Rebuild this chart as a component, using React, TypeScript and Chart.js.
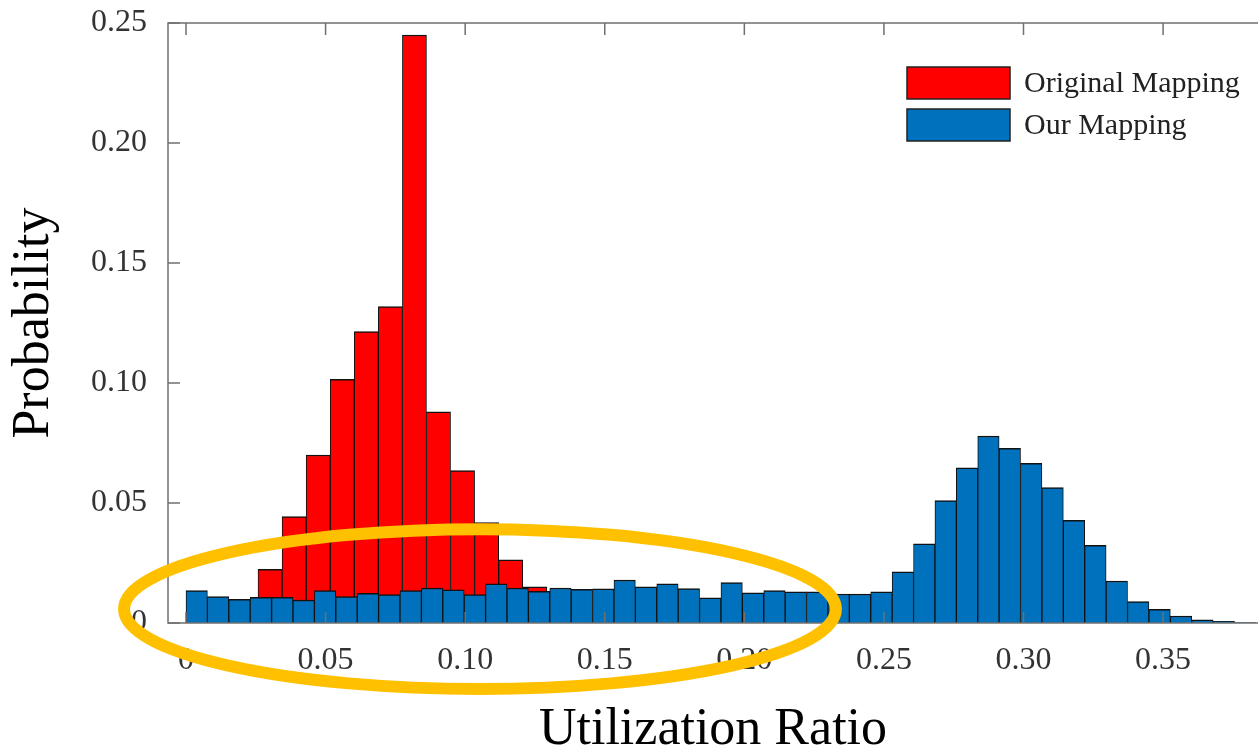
import React, { useEffect, useRef } from 'react';
import { Chart, registerables } from 'chart.js';

Chart.register(...registerables);

// ---- Data ----
const seriesNames = ['Original Mapping', 'Our Mapping'];

// Original mapping histogram (bin start, bin width, probabilities)
const originalBinStart = 0.0258;
const originalBinWidth = 0.00862;
const originalValues = [
  0.0224, 0.0443, 0.07, 0.1015, 0.1214, 0.1318, 0.245, 0.088, 0.0635, 0.0418, 0.0263, 0.0151,
];

// Our mapping histogram
const ourBinStart = 0;
const ourBinWidth = 0.007665;
const ourValues = [
  0.0135, 0.011, 0.0099, 0.0107, 0.0107, 0.0096, 0.0135, 0.011, 0.0124, 0.0118,
  0.0135, 0.0146, 0.0138, 0.0118, 0.0163, 0.0146, 0.0132, 0.0146, 0.014, 0.0142,
  0.0179, 0.0151, 0.0163, 0.0143, 0.0105, 0.0168, 0.0126, 0.0135, 0.013, 0.013,
  0.0121, 0.0121, 0.013, 0.0213, 0.033, 0.051, 0.0647, 0.0779, 0.0728, 0.0665,
  0.0564, 0.0428, 0.0324, 0.0175, 0.0089, 0.0057, 0.0029, 0.0013, 0.0007, 0.0002,
];

const xTickValues = [0, 0.05, 0.1, 0.15, 0.2, 0.25, 0.3, 0.35];
const yTickValues = [0, 0.05, 0.1, 0.15, 0.2, 0.25];
const X_MIN = -0.00645;
const X_MAX = 0.384;
const Y_MIN = 0;
const Y_MAX = 0.25;

// Highlight ellipse annotation (data coordinates)
const highlight = { cx: 0.1053, cy: 0.0058, rx: 0.1275, ry: 0.0333 };

// ---- Styles ----
const SERIF = "'Liberation Serif', 'Times New Roman', Times, serif";
const RED = '#FF0000';
const BLUE = '#0072BD';
const FRAME = '#707070';

const fmtTick = (v: number) => (Math.abs(v) < 1e-9 ? '0' : Number(v).toFixed(2));

const framePlugin = {
  id: 'frameTicks',
  afterDatasetsDraw(chart: any) {
    const { ctx, chartArea } = chart;
    const { left, right, top, bottom } = chartArea;
    const xs = chart.scales.x;
    const ys = chart.scales.y;
    ctx.save();
    ctx.strokeStyle = FRAME;
    ctx.lineWidth = 1.5;
    ctx.beginPath();
    ctx.moveTo(right + 2, top);
    ctx.lineTo(left, top);
    ctx.lineTo(left, bottom);
    ctx.lineTo(right + 2, bottom);
    ctx.stroke();
    ctx.beginPath();
    for (const v of yTickValues) {
      const py = ys.getPixelForValue(v);
      ctx.moveTo(left, py);
      ctx.lineTo(left + 12, py);
    }
    for (const v of xTickValues) {
      const px = xs.getPixelForValue(v);
      ctx.moveTo(px, bottom);
      ctx.lineTo(px, bottom - 11);
      ctx.moveTo(px, top);
      ctx.lineTo(px, top + 12);
    }
    ctx.stroke();
    ctx.restore();
  },
};

const overlayPlugin = {
  id: 'legendAndHighlight',
  afterDraw(chart: any) {
    const { ctx, chartArea } = chart;
    const xs = chart.scales.x;
    const ys = chart.scales.y;
    ctx.save();
    // legend inside plot area (top-right)
    const boxW = 103;
    const boxH = 32;
    const rowPitch = 42;
    const lx = chartArea.right - 351;
    const ly = chartArea.top + 44;
    chart.data.datasets.forEach((ds: any, i: number) => {
      const y0 = ly + i * rowPitch;
      ctx.fillStyle = ds.backgroundColor;
      ctx.fillRect(lx, y0, boxW, boxH);
      ctx.strokeStyle = '#222';
      ctx.lineWidth = 1.5;
      ctx.strokeRect(lx, y0, boxW, boxH);
      ctx.fillStyle = '#222';
      ctx.font = `30px ${SERIF}`;
      ctx.textAlign = 'left';
      ctx.textBaseline = 'middle';
      ctx.fillText(ds.label, lx + boxW + 14, y0 + boxH / 2 + 1);
    });
    // highlight ellipse
    const cx = xs.getPixelForValue(highlight.cx);
    const cy = ys.getPixelForValue(highlight.cy);
    const rx = xs.getPixelForValue(highlight.cx + highlight.rx) - cx;
    const ry = cy - ys.getPixelForValue(highlight.cy + highlight.ry);
    ctx.beginPath();
    ctx.ellipse(cx, cy, rx, ry, 0, 0, Math.PI * 2);
    ctx.strokeStyle = '#FFC000';
    ctx.lineWidth = 12;
    ctx.stroke();
    ctx.restore();
  },
};

export default function App() {
  const canvasRef = useRef<HTMLCanvasElement | null>(null);

  useEffect(() => {
    if (!canvasRef.current) return;
    const originalData = originalValues.map((v, i) => ({
      x: originalBinStart + (i + 0.5) * originalBinWidth,
      y: v,
    }));
    const ourData = ourValues.map((v, i) => ({
      x: ourBinStart + (i + 0.5) * ourBinWidth,
      y: v,
    }));

    const tickFont = { family: SERIF, size: 32 };
    const barBorder = { top: 1.5, left: 1, right: 1, bottom: 0 };

    const chart = new Chart(canvasRef.current, {
      type: 'bar',
      data: {
        datasets: [
          {
            label: seriesNames[0],
            data: originalData,
            xAxisID: 'xr',
            backgroundColor: RED,
            borderColor: '#111',
            borderWidth: barBorder,
            borderSkipped: 'start',
            barPercentage: 1,
            categoryPercentage: 1,
            grouped: false,
            order: 2,
          } as any,
          {
            label: seriesNames[1],
            data: ourData,
            xAxisID: 'x',
            backgroundColor: BLUE,
            borderColor: '#111',
            borderWidth: barBorder,
            borderSkipped: 'start',
            barPercentage: 1,
            categoryPercentage: 1,
            grouped: false,
            order: 1,
          } as any,
        ],
      },
      options: {
        animation: false,
        responsive: true,
        maintainAspectRatio: false,
        layout: { padding: { top: 23, left: 0, right: 0, bottom: 0 } },
        plugins: {
          legend: { display: false },
          tooltip: { enabled: false },
        },
        scales: {
          x: {
            type: 'linear',
            position: 'bottom',
            offset: false,
            min: X_MIN,
            max: X_MAX,
            afterFit: (s: any) => {
              s.height = 128;
              s.paddingLeft = 0;
              s.paddingRight = 0;
            },
            grid: { display: false, drawTicks: false, offset: false },
            border: { display: false },
            ticks: {
              stepSize: 0.05,
              includeBounds: false,
              autoSkip: false,
              maxRotation: 0,
              padding: 18,
              font: tickFont,
              color: '#333',
              callback: (v: any) => fmtTick(Number(v)),
            },
            title: {
              display: true,
              text: 'Utilization Ratio',
              color: '#000',
              font: { family: SERIF, size: 52, lineHeight: 0.8 },
              padding: 0,
            },
          },
          xr: {
            type: 'linear',
            position: 'bottom',
            axis: 'x',
            display: false,
            offset: false,
            min: X_MIN,
            max: X_MAX,
            grid: { offset: false },
            ticks: { stepSize: 0.05, includeBounds: false },
          },
          y: {
            type: 'linear',
            min: Y_MIN,
            max: Y_MAX,
            afterFit: (s: any) => {
              s.width = 168;
              s.paddingTop = 0;
              s.paddingBottom = 0;
            },
            grid: { display: false, drawTicks: false },
            border: { display: false },
            ticks: {
              stepSize: 0.05,
              padding: 21,
              font: tickFont,
              color: '#333',
              callback: (v: any) => fmtTick(Number(v)),
            },
            title: {
              display: true,
              text: 'Probability',
              color: '#000',
              font: { family: SERIF, size: 52, lineHeight: 1.2 },
              padding: { top: 3, bottom: 0 },
            },
          },
        },
      } as any,
      plugins: [framePlugin, overlayPlugin],
    });
    return () => chart.destroy();
  }, []);

  return (
    <div
      style={{
        position: 'absolute',
        left: 0,
        top: 0,
        width: 1258,
        height: 751,
        background: '#fff',
      }}
    >
      <canvas ref={canvasRef} />
    </div>
  );
}
